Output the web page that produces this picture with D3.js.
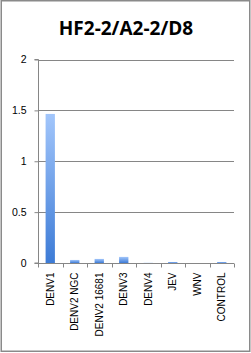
<!DOCTYPE html>
<html><head><meta charset="utf-8">
<script src="https://cdn.jsdelivr.net/npm/d3@7/dist/d3.min.js"></script>
<style>body{margin:0;background:#fff}svg{display:block}</style>
</head><body>
<script>
const title = "HF2-2/A2-2/D8";
const categories = ["DENV1","DENV2 NGC","DENV2 16681","DENV3","DENV4","JEV","WNV","CONTROL"];
const values = [1.465, 0.03, 0.04, 0.06, 0.002, 0.01, 0.0, 0.01];
const yTicks = [0, 0.5, 1, 1.5, 2];

const W = 251, H = 353;
const m = {left: 38, right: 17, top: 59.5, bottom: 90};
const svg = d3.select("body").append("svg").attr("width", W).attr("height", H);

const defs = svg.append("defs");
const g0 = defs.append("linearGradient").attr("id","bg").attr("x1",0).attr("y1",0).attr("x2",0).attr("y2",1);
g0.append("stop").attr("offset","0%").attr("stop-color","#a2c6fb");
g0.append("stop").attr("offset","100%").attr("stop-color","#3d7bd6");

svg.append("rect").attr("x",1.25).attr("y",0.75).attr("width",248.5).attr("height",350.5)
  .attr("fill","#fff").attr("stroke","#8a8a8a").attr("stroke-width",1.5);

svg.append("text").attr("x",126).attr("y",35).attr("text-anchor","middle")
  .attr("font-family","'Open Sans', sans-serif").attr("font-weight","bold").attr("font-size",19)
  .attr("fill","#000").text(title);

const x = d3.scaleBand().domain(categories).range([m.left, W - m.right]).paddingInner(0).paddingOuter(0);
const y = d3.scaleLinear().domain([0, 2]).range([H - m.bottom, m.top]);

// gridlines
svg.append("g").selectAll("line").data(yTicks.filter(d => d > 0)).join("line")
  .attr("x1", m.left).attr("x2", W - m.right)
  .attr("y1", d => Math.round(y(d)) + 0.5).attr("y2", d => Math.round(y(d)) + 0.5)
  .attr("stroke", "#868686").attr("stroke-width", 1);

// bars
const bw = x.bandwidth() * 0.38;
svg.append("g").selectAll("rect").data(values).join("rect")
  .attr("x", (d, i) => x(categories[i]) + (x.bandwidth() - bw) / 2)
  .attr("y", d => y(d))
  .attr("width", bw)
  .attr("height", d => y(0) - y(d))
  .attr("fill", "url(#bg)");

// y axis
const yAxis = d3.axisLeft(y).tickValues(yTicks).tickSize(4).tickPadding(8).tickFormat(d3.format("~g"));
const ya = svg.append("g").attr("transform", `translate(${m.left + 0.5},0)`).call(yAxis);
ya.select(".domain").attr("stroke", "#868686").attr("d", `M-4,${y(2)}H0V${y(0)}H-4`);
ya.selectAll(".tick line").attr("stroke", "#868686");
ya.selectAll(".tick text").attr("font-family", "'Liberation Sans', Arial, sans-serif").attr("font-size", 10.5).attr("fill", "#000");

// x axis
const xAxis = d3.axisBottom(x).tickSize(0).tickPadding(0);
const xa = svg.append("g").attr("transform", `translate(0,${Math.round(y(0)) + 0.5})`).call(xAxis);
xa.select(".domain").attr("stroke", "#868686").attr("d", `M${m.left},0H${W - m.right}`);
xa.selectAll(".tick line").remove();
xa.selectAll(".tick text")
  .attr("font-family", "'Liberation Sans', Arial, sans-serif").attr("font-size", 10).attr("fill", "#000")
  .attr("text-anchor", "end").attr("transform", "rotate(-90)")
  .attr("x", -9).attr("y", 0).attr("dy", "0.35em");
// category boundary ticks
const bounds = categories.map(c => x(c)).concat([x.range()[1]]);
xa.append("g").selectAll("line").data(bounds).join("line")
  .attr("x1", d => Math.round(d) + 0.5).attr("x2", d => Math.round(d) + 0.5)
  .attr("y1", 0).attr("y2", 4).attr("stroke", "#868686");
</script>
</body></html>
